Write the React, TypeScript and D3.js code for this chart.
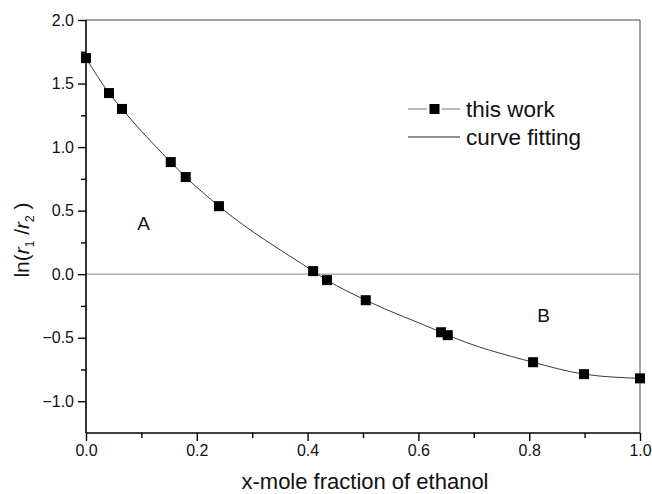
import { useRef, useEffect } from "react";
import * as d3 from "d3";

const moleFraction = [0, 0.0415, 0.065, 0.153, 0.18, 0.24, 0.41, 0.435, 0.505, 0.641, 0.653, 0.807, 0.899, 1.0];
const lnRatio = [1.70, 1.425, 1.30, 0.882, 0.764, 0.535, 0.024, -0.047, -0.205, -0.457, -0.48, -0.693, -0.787, -0.82];
const xTicks = [0, 0.2, 0.4, 0.6, 0.8, 1.0];
const xMinorTicks = [0.1, 0.3, 0.5, 0.7, 0.9];
const yTicks = [-1.0, -0.5, 0, 0.5, 1.0, 1.5, 2.0];
const yMinorTicks = [-0.75, -0.25, 0.25, 0.75, 1.25, 1.75];
const legendLabels = ["this work", "curve fitting"];

const W = 652;
const H = 494;

export default function App() {
  const svgRef = useRef<SVGSVGElement>(null);

  useEffect(() => {
    if (!svgRef.current) return;
    const svg = d3.select(svgRef.current);
    svg.selectAll("*").remove();

    const left = 86, right = 640, top = 20, bottom = 433;
    const font = "Arial, 'Liberation Sans', sans-serif";

    const x = d3.scaleLinear().domain([0, 1]).range([left, right]);
    const y = d3.scaleLinear().domain([-1.25, 2.0]).range([bottom, top]);

    const data = moleFraction.map((m, i) => ({ x: m, y: lnRatio[i] }));

    // frame top & right
    svg.append("line").attr("x1", left).attr("x2", right).attr("y1", top).attr("y2", top)
      .attr("stroke", "#444").attr("stroke-width", 1);
    svg.append("line").attr("x1", right).attr("x2", right).attr("y1", top).attr("y2", bottom)
      .attr("stroke", "#444").attr("stroke-width", 1);

    // zero line
    svg.append("line").attr("x1", left).attr("x2", right).attr("y1", y(0)).attr("y2", y(0))
      .attr("stroke", "#888").attr("stroke-width", 1);

    // curve fitting
    const line = d3.line<{ x: number; y: number }>()
      .x((d) => x(d.x)).y((d) => y(d.y)).curve(d3.curveMonotoneX);
    svg.append("path").attr("d", line(data)).attr("fill", "none")
      .attr("stroke", "#222").attr("stroke-width", 0.9);

    // markers
    svg.selectAll(".pt").data(data).enter().append("rect")
      .attr("x", (d) => x(d.x) - 5).attr("y", (d) => y(d.y) - 5)
      .attr("width", 10).attr("height", 10).attr("fill", "#000");

    // axes
    const xAxis = svg.append("g").attr("transform", `translate(0,${bottom})`)
      .call(d3.axisBottom(x).tickValues(xTicks).tickFormat(d3.format(".1f")).tickSize(8).tickPadding(4));
    svg.append("g").attr("transform", `translate(0,${bottom})`)
      .call(d3.axisBottom(x).tickValues(xMinorTicks).tickFormat(() => "").tickSize(5))
      .call((g) => g.select(".domain").remove());
    const yAxis = svg.append("g").attr("transform", `translate(${left},0)`)
      .call(d3.axisLeft(y).tickValues(yTicks).tickFormat(d3.format(".1f")).tickSize(8).tickPadding(4));
    svg.append("g").attr("transform", `translate(${left},0)`)
      .call(d3.axisLeft(y).tickValues(yMinorTicks).tickFormat(() => "").tickSize(5))
      .call((g) => g.select(".domain").remove());

    [xAxis, yAxis].forEach((g) => {
      g.select(".domain").attr("stroke", "#000").attr("stroke-width", 1.6);
      g.selectAll(".tick text").attr("font-family", font).attr("font-size", 16).attr("fill", "#111");
    });
    svg.selectAll(".tick line").attr("stroke", "#000").attr("stroke-width", 1.4);
    yAxis.select(".domain").attr("d", `M0,${bottom}V${top}`);
    xAxis.select(".domain").attr("d", `M${left},0H${right}`);

    // axis titles
    svg.append("text").attr("x", (left + right) / 2 + 2).attr("y", 489).attr("text-anchor", "middle")
      .attr("font-family", font).attr("font-size", 22).attr("fill", "#111")
      .text("x-mole fraction of ethanol");

    const yl = svg.append("text").attr("transform", `translate(29,240) rotate(-90)`)
      .attr("text-anchor", "middle").attr("font-family", font).attr("font-size", 21).attr("fill", "#111");
    yl.append("tspan").text("ln(");
    yl.append("tspan").attr("font-style", "italic").text("r");
    yl.append("tspan").attr("font-size", 12).attr("dy", 5).text("1");
    yl.append("tspan").attr("dy", -5).text(" /");
    yl.append("tspan").attr("font-style", "italic").text("r");
    yl.append("tspan").attr("font-size", 12).attr("dy", 5).text("2");
    yl.append("tspan").attr("dy", -5).text(" )");

    // region labels
    svg.append("text").attr("x", x(0.104)).attr("y", 230).attr("text-anchor", "middle")
      .attr("font-family", font).attr("font-size", 19).attr("fill", "#111").text("A");
    svg.append("text").attr("x", x(0.826)).attr("y", 322).attr("text-anchor", "middle")
      .attr("font-family", font).attr("font-size", 19).attr("fill", "#111").text("B");

    // legend
    const lg = svg.append("g").attr("transform", "translate(408,109)");
    lg.append("line").attr("x1", 0).attr("x2", 19).attr("y1", 0).attr("y2", 0)
      .attr("stroke", "#777").attr("stroke-width", 1);
    lg.append("line").attr("x1", 34).attr("x2", 52).attr("y1", 0).attr("y2", 0)
      .attr("stroke", "#777").attr("stroke-width", 1);
    lg.append("rect").attr("x", 21.5).attr("y", -5).attr("width", 10).attr("height", 10).attr("fill", "#000");
    lg.append("line").attr("x1", 0).attr("x2", 52).attr("y1", 28).attr("y2", 28)
      .attr("stroke", "#222").attr("stroke-width", 1);
    lg.selectAll(".lt").data(legendLabels).enter().append("text")
      .attr("x", 58).attr("y", (_, i) => i * 28 + 8)
      .attr("font-family", font).attr("font-size", 22.5).attr("fill", "#111")
      .text((d) => d);
  }, []);

  return (
    <svg ref={svgRef} width={W} height={H} style={{ position: "absolute", left: 0, top: 0, background: "#fff" }} />
  );
}
